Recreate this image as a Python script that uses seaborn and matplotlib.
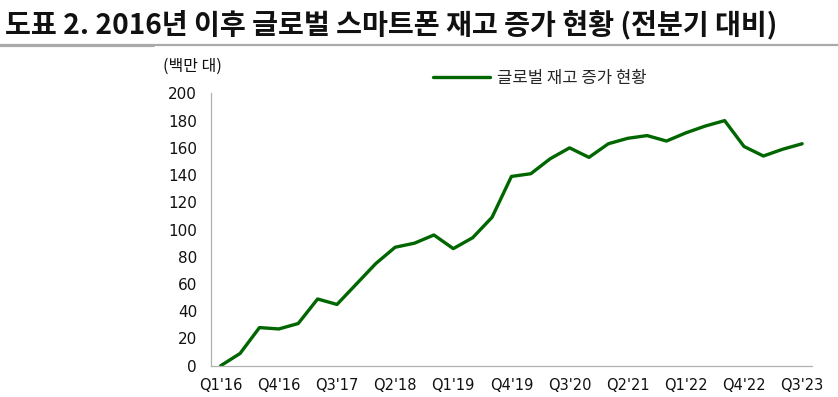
import matplotlib
matplotlib.use("Agg")
import matplotlib.pyplot as plt
from matplotlib.lines import Line2D
import seaborn as sns
import pandas as pd

# 분기 라벨 (Q1'16 ~ Q3'23)
quarters = [f"Q{q}'{y:02d}" for y in range(16, 24) for q in range(1, 5)][:31]
# 글로벌 스마트폰 재고 누적 증가 (백만 대), 그림에서 읽은 값
inventory = [0, 9, 28, 27, 31, 49, 45, 60, 75, 87, 90, 96, 86, 94, 109,
             139, 141, 152, 160, 153, 163, 167, 169, 165, 171, 176, 180,
             161, 154, 159, 163]
series_name = "글로벌 재고 증가 현황"
title = "도표 2. 2016년 이후 글로벌 스마트폰 재고 증가 현황 (전분기 대비)"
unit_label = "(백만 대)"

df = pd.DataFrame({"idx": range(len(quarters)), "quarter": quarters, "value": inventory})

sns.set_style("white")
plt.rcParams['font.family'] = ['DejaVu Sans', 'Noto Sans CJK KR']
kr = ["Noto Sans CJK KR", "DejaVu Sans"]

fig = plt.figure(figsize=(8.38, 3.97), dpi=100)
ax = fig.add_axes([0.2518, 0.0788, 0.717, 0.686])

sns.lineplot(data=df, x="idx", y="value", ax=ax, color="#006600",
             linewidth=2.4, label=series_name)

# axes
ax.set_xlim(-0.5, len(quarters) - 0.5)
ax.set_ylim(0, 200)
ax.set_yticks(range(0, 201, 20))
ax.set_xticks(range(0, len(quarters), 3))
ax.set_xticklabels(quarters[::3])
ax.set_xticks([i - 0.5 for i in range(len(quarters) + 1)], minor=True)
ax.set_xlabel("")
ax.set_ylabel("")
ax.tick_params(axis="x", which="major", length=0, pad=9, labelsize=10.5, colors="#111111")
ax.tick_params(axis="x", which="minor", length=5, width=0.8, color="#b0b0b0", direction="out")
ax.tick_params(axis="y", length=5, width=0.8, color="#b0b0b0", direction="out",
               labelsize=11, labelcolor="#111111", pad=5)
for s in ["top", "right"]:
    ax.spines[s].set_visible(False)
for s in ["left", "bottom"]:
    ax.spines[s].set_color("#b0b0b0")
    ax.spines[s].set_linewidth(0.9)

leg = ax.legend(loc="upper left", bbox_to_anchor=(0.345, 1.14), frameon=False,
                handlelength=3.4, handletextpad=0.4,
                prop={"family": kr, "size": 12})

# title and unit
fig.text(0.006, 0.975, title, ha="left", va="top", fontsize=20.3, fontweight="bold",
         family=kr, color="#111111")
fig.add_artist(Line2D([0, 0.183], [0.886, 0.886], transform=fig.transFigure,
                      color="#aaaaaa", linewidth=2.3))
fig.add_artist(Line2D([0.183, 1], [0.887, 0.887], transform=fig.transFigure,
                      color="#aaaaaa", linewidth=1.6))
fig.text(0.194, 0.834, unit_label, ha="left", va="center", fontsize=11.5,
         family=kr, color="#111111")

fig.savefig("out.png", dpi=100)
